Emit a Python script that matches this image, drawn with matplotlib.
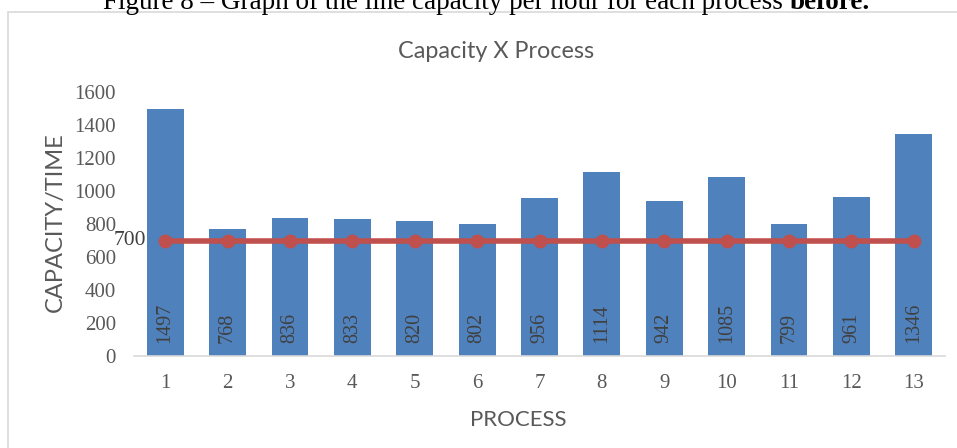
import matplotlib.pyplot as plt
from matplotlib.patches import Rectangle

processes = [str(i) for i in range(1, 14)]
capacity = [1497, 768, 836, 833, 820, 802, 956, 1114, 942, 1085, 799, 961, 1346]
target = [700] * 13

bar_color = '#4F81BD'
line_color = '#C0504D'
text_gray = '#595959'
serif = ['Liberation Serif', 'DejaVu Serif']
sans = ['Lato', 'DejaVu Sans']

W, H = 957, 448
fig = plt.figure(figsize=(W / 100, H / 100), dpi=100)
ax = fig.add_axes([134 / W, 1 - 356 / H, 811 / W, 264 / H])

# chart frame
fig.patches.append(Rectangle((8 / W, -0.1), 1.0, 1.1 - 12 / H,
                             transform=fig.transFigure, fill=False,
                             edgecolor='#D9D9D9', linewidth=1.2))

# caption above the chart (runs off the top edge)
split = 790 / W
fig.text(split, 1 - 9 / H, 'Figure 8 – Graph of the line capacity per hour for each process ',
         fontsize=19.5, family=serif, ha='right', va='baseline', color='black')
fig.text(split, 1 - 9 / H, 'before.', fontsize=19.5, family=serif, weight='bold',
         ha='left', va='baseline', color='black')

x = list(range(len(processes)))
ax.bar(x, capacity, width=0.59, color=bar_color, zorder=2)
ax.plot(x, target, color=line_color, linewidth=4, marker='o', markersize=9, zorder=3)

for xi, v in zip(x, capacity):
    ax.annotate(str(v), (xi, 0), xytext=(0, 9.5), textcoords='offset points',
                rotation=90, ha='center', va='bottom', fontsize=14.5,
                family=serif, color='#404040', zorder=4)

ax.annotate(str(target[0]), (x[0], target[0]), xytext=(-14, 0),
            textcoords='offset points', ha='right', va='center',
            fontsize=15.5, family=serif, color='#404040', zorder=4)

ax.set_xlim(-0.5, len(processes) - 0.5)
ax.set_ylim(0, 1600)
ax.set_yticks(range(0, 1601, 200))
ax.set_xticks(x)
ax.set_xticklabels(processes)

for lab in ax.get_xticklabels() + ax.get_yticklabels():
    lab.set_family(serif)
    lab.set_fontsize(15)
    lab.set_color(text_gray)

ax.tick_params(axis='both', length=0)
ax.tick_params(axis='y', pad=13)
ax.tick_params(axis='x', pad=13)

for side in ['top', 'right', 'left']:
    ax.spines[side].set_visible(False)
ax.spines['bottom'].set_color('#D9D9D9')
ax.spines['bottom'].set_linewidth(1.2)

fig.text(55 / W, 1 - 222 / H, 'CAPACITY/TIME', fontsize=17, family=sans,
         color=text_gray, rotation=90, ha='center', va='center')
fig.text(518 / W, 1 - 420 / H, 'PROCESS', fontsize=16, family=sans,
         color=text_gray, ha='center', va='center')
fig.text(496 / W, 1 - 52 / H, 'Capacity X Process', fontsize=16.8, family=sans,
         color=text_gray, ha='center', va='center')

fig.savefig('out.png', dpi=100)
